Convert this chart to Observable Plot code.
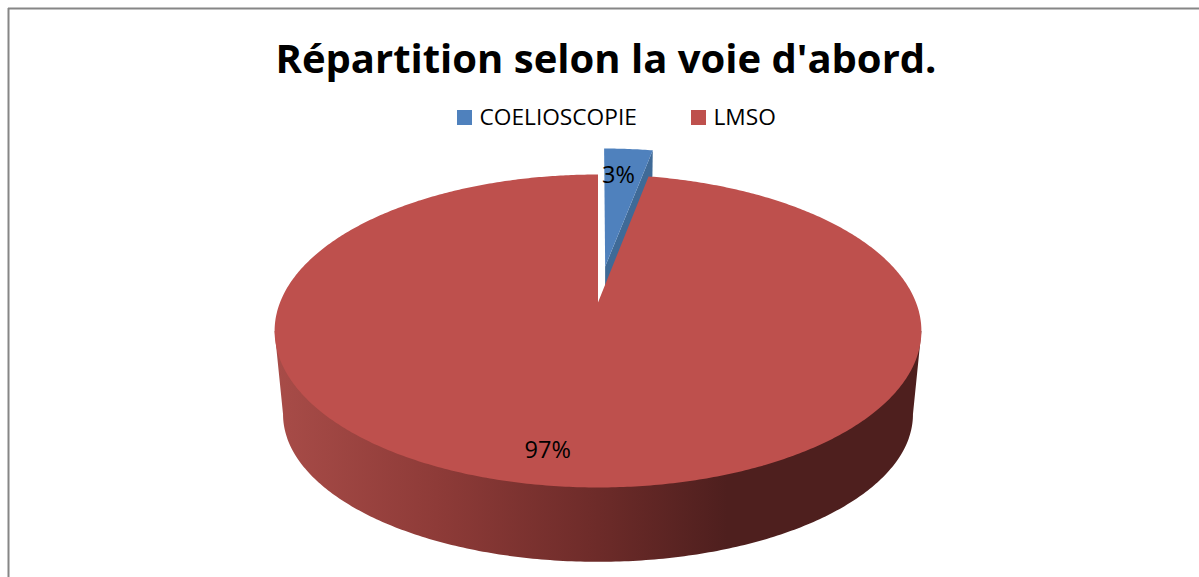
<!DOCTYPE html>
<html lang="fr">
<head>
<meta charset="utf-8">
<title>Répartition selon la voie d'abord.</title>
<script src="https://cdn.jsdelivr.net/npm/d3@7"></script>
<script src="https://cdn.jsdelivr.net/npm/@observablehq/plot@0.6"></script>
<style>
  html, body { margin: 0; padding: 0; background: #fff; }
  svg { display: block; }
</style>
</head>
<body>
<script>
// Chart content
const chartTitle = "Répartition selon la voie d'abord.";
const categories = ["COELIOSCOPIE", "LMSO"];
const shares = [3, 97];
const shareLabels = ["3%", "97%"];
const sliceColors = ["#4F81BD", "#BE504D"];
const exploded = [0.25, 0];

// Perspective of the tilted disc: each plane is (x0, y0, B, A), with k the foreshortening
const k = 0.182;
const topPlane = {x0: 597.5, y0: 302, B: 318, A: 151.3};
const basePlane = {x0: 597.5, y0: 387, B: 309.7, A: 142.6};

function project(u, v, plane) {
  const w = 1 + k * v;
  return {x: plane.x0 + plane.B * u / w, y: plane.y0 - plane.A * v / w};
}

// Angles run clockwise from twelve o'clock
const total = d3.sum(shares);
let running = 0;
const slices = shares.map((value, i) => {
  const start = running / total * 2 * Math.PI;
  running += value;
  const end = running / total * 2 * Math.PI;
  const mid = (start + end) / 2;
  const e = exploded[i];
  return {start, end, mid, ox: e * Math.sin(mid), oy: e * Math.cos(mid), color: sliceColors[i]};
});

const onRim = (s, t, plane, r = 1) =>
  project(s.ox + r * Math.sin(t), s.oy + r * Math.cos(t), plane);

function sliceFace(s, plane) {
  const n = Math.ceil((s.end - s.start) / 0.01);
  const rim = d3.range(n + 1).map(i => onRim(s, s.start + (s.end - s.start) * i / n, plane));
  return [project(s.ox, s.oy, plane), ...rim];
}

// Dark cut face that shows under the detached slice
const [blue, red] = slices;
const cutFace = [
  project(blue.ox, blue.oy, topPlane),
  onRim(blue, blue.end, topPlane),
  onRim(blue, blue.end, basePlane),
  project(blue.ox, blue.oy, basePlane)
];

// Outer wall of the disc: widest point of the top rim, front of the base rim, back up
const widest = Math.acos(-k);
const wallSteps = 240;
const baseFront = d3.range(wallSteps + 1).map(i => {
  const t = widest + (2 * Math.PI - 2 * widest) * i / wallSteps;
  return project(Math.sin(t), Math.cos(t), basePlane);
});
const topRight = project(Math.sin(widest), Math.cos(widest), topPlane);
const topLeft = project(-Math.sin(widest), Math.cos(widest), topPlane);
const wall = [topRight, ...baseFront, topLeft];

// Horizontal shading of the wall
const wallShade = () => {
  const defs = d3.create("svg:defs");
  const gradient = defs.append("linearGradient").attr("id", "wallShade")
    .attr("x1", 0).attr("x2", 1).attr("y1", 0).attr("y2", 0);
  [[0, "#A84C48"], [0.25, "#8E3B38"], [0.5, "#6D2B29"], [0.7, "#4E1F1E"], [1, "#4E1F1E"]]
    .forEach(([offset, color]) => gradient.append("stop").attr("offset", offset).attr("stop-color", color));
  return defs.node();
};

// Share labels sit inside their slices, nudged along the same anchors
const labelAnchors = [
  {...onRim(blue, blue.mid, topPlane, 0.76), text: shareLabels[0]},
  {...onRim(red, red.mid, topPlane, 0.83), text: shareLabels[1]}
];

const legend = [
  {x: 457, text: categories[0], color: sliceColors[0]},
  {x: 691, text: categories[1], color: sliceColors[1]}
];

const chart = Plot.plot({
  width: 1199,
  height: 577,
  margin: 0,
  style: {fontFamily: "'Open Sans', sans-serif", background: "#fff"},
  x: {domain: [0, 1199], range: [0, 1199], axis: null},
  y: {domain: [0, 577], range: [0, 577], axis: null},
  marks: [
    wallShade,
    // frame of the chart area
    Plot.ruleY([8], {x1: 8, x2: 1199, stroke: "#868686", strokeWidth: 2}),
    Plot.ruleX([8], {y1: 8, y2: 577, stroke: "#868686", strokeWidth: 2}),
    // disc
    Plot.line(wall, {x: "x", y: "y", fill: "url(#wallShade)", stroke: "none"}),
    Plot.line(cutFace, {x: "x", y: "y", fill: "#3F6A97", stroke: "none"}),
    Plot.line(sliceFace(blue, topPlane), {x: "x", y: "y", fill: blue.color, stroke: "none"}),
    Plot.line(sliceFace(red, topPlane), {x: "x", y: "y", fill: red.color, stroke: "none"}),
    // share labels
    Plot.text(labelAnchors.slice(0, 1), {x: "x", y: "y", text: "text", fill: "#000", fontSize: 23.5, dx: -5, dy: 2}),
    Plot.text(labelAnchors.slice(1), {x: "x", y: "y", text: "text", fill: "#000", fontSize: 23.5, dx: -21, dy: 1}),
    // title
    Plot.text([chartTitle], {frameAnchor: "top", text: d => d, dx: 6, dy: 60, fill: "#000", fontSize: 40, fontWeight: 700, lineAnchor: "middle"}),
    // legend
    Plot.rect(legend, {x1: "x", x2: d => d.x + 15, y1: 110, y2: 125, fill: "color"}),
    Plot.text(legend, {x: d => d.x + 22, y: 117, text: "text", textAnchor: "start", fill: "#000", fontSize: 22.7})
  ]
});
document.body.append(chart);
</script>
</body>
</html>
